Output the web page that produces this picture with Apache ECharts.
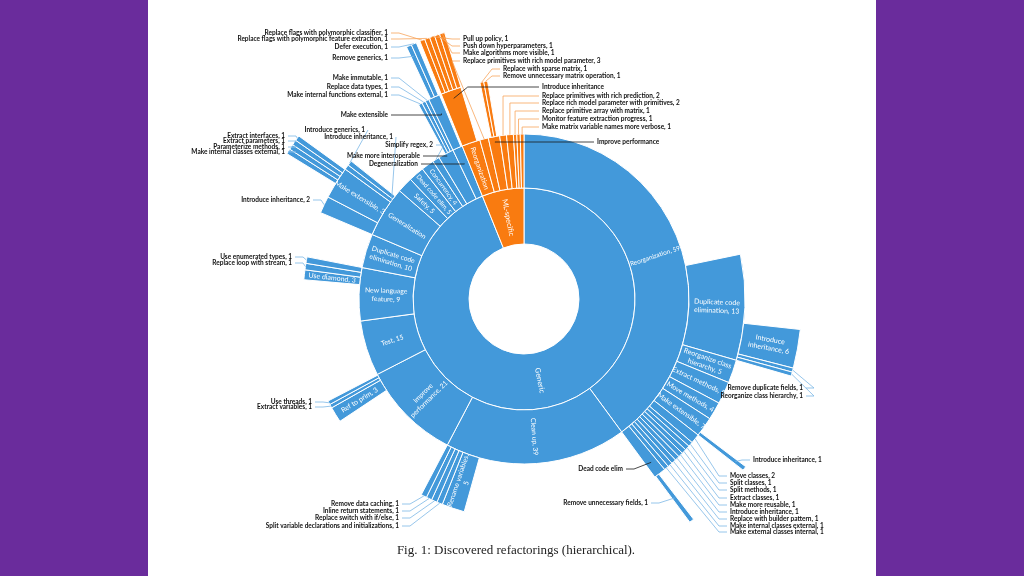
<!DOCTYPE html>
<html><head><meta charset="utf-8">
<script src="https://cdn.jsdelivr.net/npm/echarts@6/dist/echarts.min.js"></script>
<style>
html,body{margin:0;padding:0;background:#6A2C9C;width:1024px;height:576px;overflow:hidden;}
#page{position:absolute;left:148px;top:0;width:728px;height:576px;background:#fff;}
#chart{position:absolute;left:0;top:0;width:1024px;height:576px;}
</style></head><body>
<div id="page"></div><div id="chart"></div>
<script>
// ---- data: [label, angular size, key]; null label = empty gap ----
const ring1 = [['Generic', 338, 'generic'], ['ML-specific', 22, 'ml']];
const genericKids = [
  ['Reorganization, 59', 143.7, 'gReorg'],
  ['Clean up, 39', 64, 'gClean'],
  ['Improve\nperformance, 21', 35.1, 'gPerf'],
  ['Test, 15', 19.5],
  ['New language\nfeature, 9', 18.7, 'gLang'],
  ['Duplicate code\nelimination, 10', 12],
  ['Generalization', 18, 'gGen'],
  ['Safety, 5', 5.5],
  ['Dead code elim, 5', 5.5],
  ['Concurrency, 4', 4.5],
  ['Simplify regex, 2', 2.5, 'gRegex'],
  ['Make more interoperable', 5.5, 'gInterop'],
  ['Degeneralization', 3.5, 'gDegen']
];
const reorgKids = [
  [null, 78.3],
  ['Duplicate code\nelimination, 13', 27.8, 'rDup'],
  ['Reorganize class\nhierarchy, 5', 6.1],
  ['Extract methods, 5', 5.9],
  ['Move methods, 4', 4.7],
  ['Make extensible, 7', 5.2, 'rExt'],
  ['Move classes, 2', 2.5, 'rMoveCls'],
  ['Split classes, 1', 1.25, 'rSplitCls'],
  ['Split methods, 1', 1.25, 'rSplitM'],
  ['Extract classes, 1', 1.25, 'rExtCls'],
  ['Make more reusable, 1', 1.25, 'rReuse'],
  ['Introduce inheritance, 1', 1.25, 'rInh'],
  ['Replace with builder pattern, 1', 1.25, 'rBuilder'],
  ['Make internal classes external, 1', 1.25, 'rIntExt'],
  ['Make external classes internal, 1', 1.25, 'rExtInt'],
  ['Dead code elim', 3.2, 'rDead']
];
const dupKids = [
  [null, 18],
  ['Introduce\ninheritance, 6', 8.1],
  ['Remove duplicate fields, 1', 0.85, 'dDupF'],
  ['Reorganize class hierarchy, 1', 0.85, 'dReorg']
];
const reorgExtKids = [[null, 4.3], ['Introduce inheritance, 1', 0.9, 'eInh']];
const reorgDeadKids = [[null, 1.9], ['Remove unnecessary fields, 1', 1.0, 'dUnnec']];
const cleanKids = [
  [null, 52],
  ['Rename variables,\n5', 6.0],
  ['Split variable declarations and initializations, 1', 1.5, 'cSplit'],
  ['Replace switch with if/else, 1', 1.5, 'cSwitch'],
  ['Inline return statements, 1', 1.5, 'cInline'],
  ['Remove data caching, 1', 1.5, 'cCache']
];
const perfKids = [
  [null, 28.7],
  ['Ref to prim, 3', 4.1],
  ['Extract variables, 1', 1.0, 'pExtVar'],
  ['Use threads, 1', 1.0, 'pThreads']
];
const langKids = [
  [null, 12.7],
  ['Use diamond, 3', 2.6],
  ['Replace loop with stream, 1', 1.7, 'lLoop'],
  ['Use enumerated types, 1', 1.7, 'lEnum']
];
const genKids = [
  ['Introduce inheritance, 2', 4.5, 'gInh2'],
  ['Make extensible, 3', 8.5, 'gExt'],
  ['Introduce inheritance, 1', 1.3, 'gInh1'],
  ['Introduce generics, 1', 1.3, 'gGenerics']
];
const genExtKids = [
  [null, 4],
  ['Make internal classes external, 1', 1.1, 'xIntExt'],
  ['Parameterize methods, 1', 1.1, 'xParam'],
  ['Extract parameters, 1', 1.1, 'xExtP'],
  ['Extract interfaces, 1', 1.1, 'xExtI']
];
const interopKids = [
  [null, 2.5],
  ['Make internal functions external, 1', 1.0, 'iFunc'],
  ['Replace data types, 1', 1.0, 'iTypes'],
  ['Make immutable, 1', 1.0, 'iImm']
];
const degenKids = [['Make extensible', 3.0, 'dgExt']];
const degenExtKids = [[null, 0.5], ['Remove generics, 1', 1.1, 'xRemGen'], ['Defer execution, 1', 1.1, 'xDefer']];
const mlKids = [
  ['Reorganization', 6.5, 'mReorg'],
  ['Replace primitives with rich model parameter, 3', 3, 'mRichParam'],
  ['Improve performance', 4, 'mPerf'],
  ['Replace primitives with rich prediction, 2', 2.4, 'mRichPred'],
  ['Replace rich model parameter with primitives, 2', 2.4, 'mRichPrim'],
  ['Replace primitive array with matrix, 1', 1.2, 'mArray'],
  ['Monitor feature extraction progress, 1', 1.2, 'mMonitor'],
  ['Make matrix variable names more verbose, 1', 1.3, 'mVerbose']
];
const mlReorgKids = [['Introduce inheritance', 5.4, 'mInh']];
const mlInhKids = [
  ['Replace flags with polymorphic classifier, 1', 1.08, 'fClass'],
  ['Replace flags with polymorphic feature extraction, 1', 1.08, 'fFeat'],
  ['Pull up policy, 1', 1.08, 'fPull'],
  ['Push down hyperparameters, 1', 1.08, 'fPush'],
  ['Make algorithms more visible, 1', 1.08, 'fVisible']
];
const mlPerfKids = [[null, 1], ['Replace with sparse matrix, 1', 1, 'sSparse'], ['Remove unnecessary matrix operation, 1', 1, 'sRemove']];

const childrenOf = {
  generic: genericKids, ml: mlKids, gReorg: reorgKids, rDup: dupKids, rExt: reorgExtKids, rDead: reorgDeadKids,
  gClean: cleanKids, gPerf: perfKids, gLang: langKids, gGen: genKids, gExt: genExtKids,
  gInterop: interopKids, gDegen: degenKids, dgExt: degenExtKids,
  mReorg: mlReorgKids, mInh: mlInhKids, mPerf: mlPerfKids
};

const insideLabels = ['Generic', 'ML-specific', 'Reorganization, 59', 'Clean up, 39', 'Improve\nperformance, 21',
  'Test, 15', 'New language\nfeature, 9', 'Duplicate code\nelimination, 10', 'Generalization', 'Safety, 5',
  'Dead code elim, 5', 'Concurrency, 4', 'Reorganization', 'Duplicate code\nelimination, 13',
  'Reorganize class\nhierarchy, 5', 'Extract methods, 5', 'Move methods, 4', 'Make extensible, 7',
  'Introduce\ninheritance, 6', 'Rename variables,\n5', 'Ref to prim, 3', 'Use diamond, 3', 'Make extensible, 3'];
const smallLabels = ['Reorganization, 59', 'Dead code elim, 5', 'Concurrency, 4'];

// ---- callout layout: [key, textX, textY, side, targetFraction, bend] ----
const callouts = [
  ['fClass', 388, 33, 'L'], ['fFeat', 388, 39, 'L'], ['xDefer', 388, 47, 'L'], ['xRemGen', 388, 58, 'L', 0.8],
  ['iImm', 388, 78, 'L'], ['iTypes', 388, 87, 'L'], ['iFunc', 388, 95, 'L'], ['dgExt', 388, 115, 'L', 0.68, 't0'],
  ['gGenerics', 365, 130, 'L', 1, 0], ['gInh1', 393, 137, 'L', 0, 0], ['gRegex', 433, 145, 'L'],
  ['gInterop', 420, 156, 'L', 0.95, 't0'], ['gDegen', 418, 164, 'L', 0.68, 't0'],
  ['xExtI', 285, 136, 'L'], ['xExtP', 285, 141, 'L'], ['xParam', 285, 147, 'L'], ['xIntExt', 285, 152, 'L'],
  ['gInh2', 310, 200, 'L'], ['lEnum', 292, 257, 'L'], ['lLoop', 292, 263, 'L'],
  ['pThreads', 312, 402, 'L'], ['pExtVar', 312, 407, 'L'],
  ['cCache', 399, 504, 'L'], ['cInline', 399, 511, 'L'], ['cSwitch', 399, 518, 'L'], ['cSplit', 399, 526, 'L'],
  ['rDead', 623, 469, 'L', 0.75], ['dUnnec', 648, 503, 'L', 0.5],
  ['dDupF', 803, 388, 'L'], ['dReorg', 803, 396, 'L'],
  ['fPull', 463, 39, 'R'], ['fPush', 463, 46, 'R'], ['fVisible', 463, 53, 'R'], ['mRichParam', 463, 61, 'R'],
  ['sSparse', 503, 69, 'R'], ['sRemove', 503, 76, 'R'], ['mInh', 542, 87, 'R', 0.85, 't14'],
  ['mRichPred', 542, 96, 'R', 1, 't0'], ['mRichPrim', 542, 103, 'R', 1, 't0'], ['mArray', 542, 111, 'R', 1, 't0'],
  ['mMonitor', 542, 119, 'R', 1, 't0'], ['mVerbose', 542, 127, 'R', 1, 't0'], ['mPerf', 597, 142, 'R', 0.9, 't0'],
  ['eInh', 753, 460, 'R', 0.8],
  ['rMoveCls', 730, 476, 'R'], ['rSplitCls', 730, 483, 'R'], ['rSplitM', 730, 490, 'R'], ['rExtCls', 730, 498, 'R'],
  ['rReuse', 730, 505, 'R'], ['rInh', 730, 512, 'R'], ['rBuilder', 730, 519, 'R'], ['rIntExt', 730, 526, 'R'],
  ['rExtInt', 730, 532, 'R']
];

const tones = { generic: '#4399DA', ml: '#F97B10' };
const leaderTones = { generic: '#7CB7E6', ml: '#F7A45C' };

const keyInfo = {};
function build(items, tone) {
  return items.map(function (it) {
    const label = it[0], value = it[1], key = it[2];
    if (label === null) {
      return { name: '', value: value, itemStyle: { color: 'rgba(0,0,0,0)', borderWidth: 0, borderColor: 'rgba(0,0,0,0)' },
        label: { show: false }, emphasis: { disabled: true } };
    }
    const t = tone || key;
    const lab = { show: insideLabels.indexOf(label) >= 0 };
    if (smallLabels.indexOf(label) >= 0) lab.fontSize = 6.4;
    const node = { name: label, value: value, refKey: key || null, itemStyle: { color: tones[t] }, label: lab };
    if (key) keyInfo[key] = { label: label, tone: t, parent: !!childrenOf[key] };
    if (key && childrenOf[key]) node.children = build(childrenOf[key], t);
    return node;
  });
}

const chart = echarts.init(document.getElementById('chart'), null, { renderer: 'canvas' });
chart.setOption({
  animation: false,
  series: [{
    type: 'sunburst',
    center: [524, 299],
    radius: [55, 278],
    nodeClick: false,
    sort: function (a, b) { return a.dataIndex - b.dataIndex; },
    data: build(ring1, null),
    itemStyle: { borderColor: '#fff', borderWidth: 1 },
    label: { rotate: 'radial', color: '#fff', fontFamily: 'Lato', fontSize: 6.8, minAngle: 0, lineHeight: 8.5, overflow: 'none' },
    emphasis: { disabled: true },
    levels: [
      {},
      { r0: 55, r: 111, label: { fontSize: 7.5 } },
      { r0: 111, r: 165 },
      { r0: 165, r: 221, label: { fontSize: 7 } },
      { r0: 221, r: 278, label: { fontSize: 7 } }
    ]
  }]
});

// ---- read sector geometry from the library's own layout ----
const layouts = {};
const tree = chart.getModel().getSeriesByIndex(0).getData().tree;
tree.root.eachNode(function (node) {
  if (node.dataIndex < 0) return;
  const m = tree.data.getItemModel(node.dataIndex);
  const k = m.get('refKey');
  if (k) layouts[k] = node.getLayout();
});

const graphics = [];
callouts.forEach(function (c) {
  const key = c[0], tx = c[1], ty = c[2], side = c[3];
  const info = keyInfo[key], lay = layouts[key];
  if (!info || !lay) return;
  const frac = c[4] != null ? c[4] : (info.parent ? 0.5 : 1);
  const mid = (lay.startAngle + lay.endAngle) / 2;
  const rr = lay.r0 + (lay.r - lay.r0) * frac;
  const px = lay.cx + rr * Math.cos(mid), py = lay.cy + rr * Math.sin(mid);
  const dir = side === 'L' ? 1 : -1;
  const sx = tx + dir * 3;
  let bx;
  const bend = c[5];
  if (typeof bend === 'string') bx = px + parseFloat(bend.slice(1));
  else bx = sx + dir * (bend != null ? bend : 8);
  const stroke = info.parent ? '#1a1a1a' : leaderTones[info.tone];
  graphics.push({ type: 'polyline', silent: true, z: 10,
    shape: { points: [[sx, ty], [bx, ty], [px, py]] },
    style: { stroke: stroke, lineWidth: 0.8, fill: null } });
  graphics.push({ type: 'text', silent: true, z: 11, x: tx, y: ty,
    style: { text: info.label, align: side === 'L' ? 'right' : 'left', verticalAlign: 'middle',
      fontFamily: 'Lato', fontWeight: 'bold', fontSize: 6.5, fill: '#111' } });
});
graphics.push({ type: 'text', silent: true, x: 516, y: 551,
  style: { text: 'Fig. 1: Discovered refactorings (hierarchical).', align: 'center', verticalAlign: 'middle',
    fontFamily: 'Liberation Serif', fontSize: 13, fill: '#222' } });
chart.setOption({ graphic: graphics });
</script></body></html>
